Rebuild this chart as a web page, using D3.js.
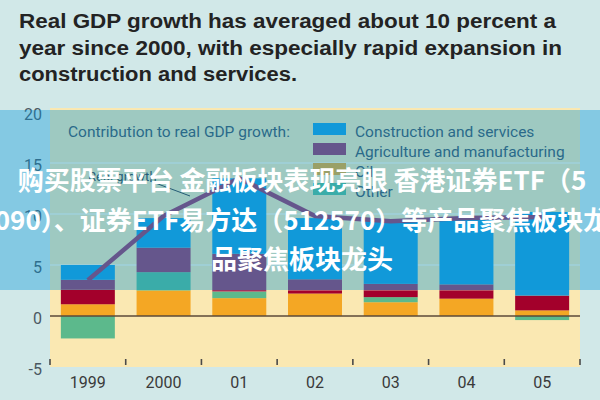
<!DOCTYPE html>
<html>
<head>
<meta charset="utf-8">
<script src="https://cdn.jsdelivr.net/npm/d3@7"></script>
<style>
  html, body { margin: 0; padding: 0; background: #d1e8e8; }
  svg { display: block; }
</style>
</head>
<body>
<svg id="chart" width="600" height="400"></svg>
<script>
// ---------------- data ----------------
const years = ["1999", "2000", "01", "02", "03", "04", "05"];
const oil          = [1.15, 2.5, 1.75, 2.2, 1.35, 1.7, 0.55];
const other        = [-2.2, 1.8, 0.65, 0.0, 0.5, 0.0, -0.4];
const unlabeled    = [1.45, 0.0, 0.0, 0.3, 0.65, 0.8, 1.45];
const agriManuf    = [0.95, 2.4, 3.7, 1.1, 0.65, 0.6, 0.0];
const constrServ   = [1.45, 2.9, 7.4, 6.0, 6.15, 6.5, 8.2];
const realGrowth   = [3.5, 9.8, 13.5, 9.8, 9.3, 9.6, 9.7];
const yTicks = [-5, 0, 5, 10, 15, 20];
const titleLines = [
  "Real GDP growth has averaged about 10 percent a",
  "year since 2000, with especially rapid expansion in",
  "construction and services."
];
const legendTitle = "Contribution to real GDP growth:";
const legendLabels = ["Construction and services", "Agriculture and manufacturing", "Oil", "Other"];
const watermark = [
  "购买股票平台 金融板块表现亮眼 香港证券ETF（5",
  "090）、证券ETF易方达（512570）等产品聚焦板块龙",
  "品聚焦板块龙头"
];
const growthLabel = "Real growth";

// ---------------- styles ----------------
const colors = {
  oil: "#f4a724",
  other: "#5cb98c",
  unlabeled: "#a3002b",
  agri: "#a0325e",
  constr: "#1b9bd8"
};
const legendColors = [colors.constr, colors.agri, colors.oil, colors.other];

const svg = d3.select("#chart");
const W = 600, H = 400;
const plot = { left: 50, right: 580, top: 108, bottom: 367 };

const table = years.map((y, i) => ({
  year: y, oil: oil[i], other: other[i], unlabeled: unlabeled[i],
  agri: agriManuf[i], constr: constrServ[i], growth: realGrowth[i]
}));

const x = d3.scaleBand().domain(years).range([plot.left, plot.right])
  .paddingInner(0.287).paddingOuter(0.1435);
const y = d3.scaleLinear().domain([-5, 20]).range([367, 112]);

// background
svg.append("rect").attr("width", W).attr("height", H).attr("fill", "#d1e8e8");
// plot area
svg.append("rect").attr("x", plot.left).attr("y", plot.top)
  .attr("width", plot.right - plot.left).attr("height", plot.bottom - plot.top)
  .attr("fill", "#fae8b2");

// gridlines
svg.append("g").selectAll("line").data([5, 10, 15]).join("line")
  .attr("x1", plot.left).attr("x2", plot.right)
  .attr("y1", d => y(d)).attr("y2", d => y(d))
  .attr("stroke", "#fdf4dc").attr("stroke-width", 1.5);

// stacked bars
const keys = ["oil", "other", "unlabeled", "agri", "constr"];
const stack = d3.stack().keys(keys).offset(d3.stackOffsetDiverging)(table);
svg.append("g").selectAll("g").data(stack).join("g")
  .attr("fill", d => colors[d.key])
  .selectAll("rect").data(d => d).join("rect")
  .attr("x", d => x(d.data.year))
  .attr("width", x.bandwidth())
  .attr("y", d => y(Math.max(d[0], d[1])))
  .attr("height", d => Math.abs(y(d[0]) - y(d[1])));

// zero line
svg.append("line").attr("x1", plot.left).attr("x2", plot.right)
  .attr("y1", y(0)).attr("y2", y(0))
  .attr("stroke", "#5b4a38").attr("stroke-width", 1.6);

// growth line
const line = d3.line().x(d => x(d.year) + x.bandwidth() / 2).y(d => y(d.growth));
svg.append("path").datum(table).attr("d", line)
  .attr("fill", "none").attr("stroke", colors.agri).attr("stroke-width", 4.5)
  .attr("stroke-linejoin", "round");

// growth label and leader
svg.append("text").attr("x", 88).attr("y", 181).text(growthLabel)
  .attr("font-family", "Roboto, 'Liberation Sans', sans-serif")
  .attr("font-size", 13).attr("fill", "#3a3a3a");
svg.append("line").attr("x1", 150).attr("y1", 181).attr("x2", 190).attr("y2", 196)
  .attr("stroke", "#3a3a3a").attr("stroke-width", 1);

// x tick marks at band boundaries
const step = x.step();
const bounds = d3.range(years.length + 1).map(i => plot.left + i * step);
svg.append("g").selectAll("line").data(bounds).join("line")
  .attr("x1", d => d).attr("x2", d => d).attr("y1", 359).attr("y2", 365)
  .attr("stroke", "#4a4a4a").attr("stroke-width", 1.6);

// x axis labels
const xAxis = d3.axisBottom(x).tickSize(0).tickPadding(0);
const gx = svg.append("g").attr("transform", "translate(0,377)").call(xAxis);
gx.select(".domain").remove();
gx.selectAll("text").attr("font-family", "Roboto, 'Liberation Sans', sans-serif")
  .attr("font-size", 16).attr("fill", "#3a3a3a");

// y axis labels
const yAxis = d3.axisLeft(y).tickValues(yTicks).tickSize(0).tickPadding(0)
  .tickFormat(d => d < 0 ? "-" + Math.abs(d) : d);
const gy = svg.append("g").attr("transform", "translate(42,2)").call(yAxis);
gy.select(".domain").remove();
gy.selectAll("text").attr("font-family", "Roboto, 'Liberation Sans', sans-serif")
  .attr("font-size", 16).attr("fill", "#4b5862");

// legend
const lg = svg.append("g").attr("font-family", "Roboto, 'Liberation Sans', sans-serif")
  .attr("font-size", 15.5).attr("fill", "#44505a");
lg.append("text").attr("x", 68).attr("y", 137).text(legendTitle);
legendLabels.forEach((lab, i) => {
  lg.append("rect").attr("x", 313).attr("y", 123 + i * 20).attr("width", 33).attr("height", 12)
    .attr("fill", legendColors[i]);
  lg.append("text").attr("x", 355).attr("y", 137 + i * 20).text(lab);
});

// title
const tg = svg.append("g").attr("font-family", "'Liberation Sans', Arial, sans-serif")
  .attr("font-weight", "bold").attr("font-size", 20).attr("fill", "#232323");
const titleEnds = [556, 562, 297];
titleLines.forEach((t, i) => {
  tg.append("text").attr("x", 19).attr("y", 28 + i * 26.5).text(t)
    .attr("textLength", titleEnds[i] - 19).attr("lengthAdjust", "spacingAndGlyphs");
});

// overlay band (watermark)
svg.append("rect").attr("x", 0).attr("y", 110).attr("width", W).attr("height", 180)
  .attr("fill", "rgb(0,150,220)").attr("fill-opacity", 0.37);
const wg = svg.append("g").attr("font-family", "'Noto Sans CJK SC', sans-serif")
  .attr("font-weight", "bold").attr("font-size", 26).attr("fill", "#ffffff")
  .attr("text-anchor", "middle");
watermark.forEach((t, i) => {
  wg.append("text").attr("x", 302).attr("y", [190, 230, 269][i]).text(t);
});
</script>
</body>
</html>
